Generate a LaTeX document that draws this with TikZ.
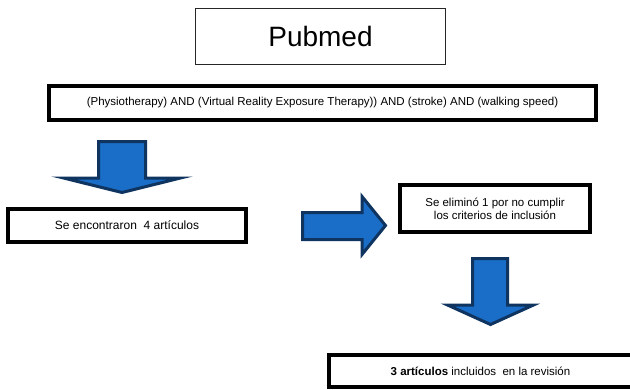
\documentclass[tikz,border=0pt]{standalone}
\usepackage{fontspec}
\setmainfont{Liberation Sans}
\definecolor{arrowfill}{HTML}{1A6EC8}
\definecolor{arrowline}{HTML}{0F3460}
\begin{document}
\begin{tikzpicture}[x=1pt,y=-1pt,
  thinbox/.style={draw=black!85,line width=1pt,fill=white,inner sep=0pt,align=center},
  thickbox/.style={draw=black,line width=4pt,fill=white,inner sep=0pt,align=center,font=\fontsize{11.5}{13.2}\selectfont},
  blockarrow/.style={draw=arrowline,line width=3pt,fill=arrowfill,line join=miter}]
\useasboundingbox (0,0) rectangle (630,389);
\clip (0,0) rectangle (630,389);
\fill[white] (0,0) rectangle (630,389);

\node[thinbox,minimum width=250pt,minimum height=56pt,font=\fontsize{28}{32}\selectfont] (pub) at (320.5,36.5) {Pubmed};

\node[thickbox,minimum width=547pt,minimum height=34pt] (query) at (322.5,103)
  {(Physiotherapy) AND (Virtual Reality Exposure Therapy)) AND (stroke) AND (walking speed)};

\node[thickbox,minimum width=238pt,minimum height=33pt,font=\fontsize{12}{14}\selectfont] (found) at (127,225.5)
  {Se encontraron\ \ 4 artículos};

\node[thickbox,minimum width=190pt,minimum height=47pt] (elim) at (495,208.5)
  {Se eliminó 1 por no cumplir\\los criterios de inclusión};

\node[thickbox,minimum width=303pt,minimum height=32pt] (final) at (480.5,371)
  {\textbf{3 artículos} incluidos\ \ en la revisión};

% block arrows
\draw[blockarrow] (98.5,141.5) -- (145.5,141.5) -- (145.5,178) -- (180.5,178)
  -- (122,192.5) -- (63.5,178) -- (98.5,178) -- cycle;
\draw[blockarrow] (302.5,212.5) -- (362,212.5) -- (362,196.5) -- (385.5,225.5)
  -- (362,254.5) -- (362,239.5) -- (302.5,239.5) -- cycle;
\draw[blockarrow] (472.5,258.5) -- (507.5,258.5) -- (507.5,305) -- (533.5,305)
  -- (490.5,324.5) -- (447.5,305) -- (472.5,305) -- cycle;
\end{tikzpicture}
\end{document}
